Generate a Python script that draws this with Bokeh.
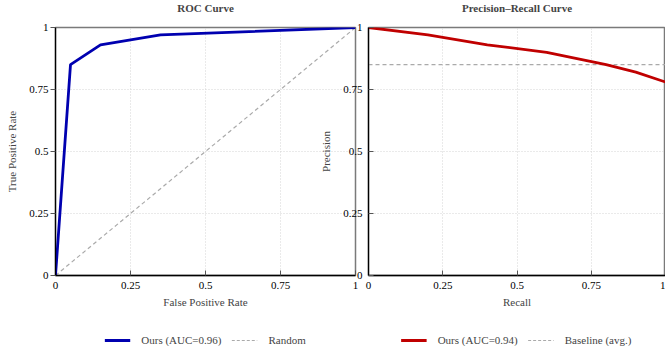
from bokeh.plotting import figure
from bokeh.models import Range1d, Legend, LegendItem, FixedTicker
from bokeh.layouts import row, column
from bokeh.embed import file_html
from bokeh.resources import INLINE

# ---- data ----
fpr = [0.0, 0.05, 0.15, 0.35, 1.0]
tpr = [0.0, 0.85, 0.93, 0.97, 1.0]
random_x = [0.0, 1.0]
random_y = [0.0, 1.0]
recall = [0.0, 0.2, 0.4, 0.6, 0.8, 0.9, 1.0]
precision = [1.0, 0.97, 0.93, 0.90, 0.85, 0.82, 0.78]
baseline_x = [0.0, 1.0]
baseline_y = [0.85, 0.85]
tick_values = [0, 0.25, 0.5, 0.75, 1]
tick_labels = ["0", "0.25", "0.5", "0.75", "1"]
roc_labels = ["Ours (AUC=0.96)", "Random"]
pr_labels = ["Ours (AUC=0.94)", "Baseline (avg.)"]

FONT = "Liberation Serif"
BLUE = "#0000b0"
RED = "#c00000"
GRAY = "#aaaaaa"
overrides = {v: s for v, s in zip(tick_values, tick_labels)}


def style(p, xlabel, ylabel, ytick_in):
    p.outline_line_color = "#7a7a7a"
    p.outline_line_width = 1.5
    p.background_fill_color = "white"
    p.title.text_font = FONT
    p.title.text_font_size = "11px"
    p.title.text_font_style = "bold"
    p.title.align = "center"
    p.title.standoff = 27
    for ax in p.xaxis:
        ax.ticker = FixedTicker(ticks=tick_values)
        ax.major_label_overrides = overrides
        ax.axis_label = xlabel
        ax.major_tick_in = 5
        ax.major_tick_out = 0
        ax.major_label_standoff = 6
        ax.axis_label_standoff = 4
    for ax in p.yaxis:
        ax.ticker = FixedTicker(ticks=tick_values)
        ax.major_label_overrides = overrides
        ax.axis_label = ylabel
        if ytick_in:
            ax.major_tick_in = 5
            ax.major_tick_out = 0
            ax.major_label_standoff = 6
        else:
            ax.major_tick_in = 0
            ax.major_tick_out = 5
            ax.major_label_standoff = 2
        ax.axis_label_standoff = 8
    for ax in p.axis:
        ax.major_label_text_font = FONT
        ax.major_label_text_font_size = "11px"
        ax.axis_label_text_font = FONT
        ax.axis_label_text_font_size = "11px"
        ax.axis_label_text_font_style = "normal"
        ax.minor_tick_line_color = None
        ax.axis_line_color = "black"
        ax.axis_line_width = 1.3
        ax.major_tick_line_color = "#555555"
        ax.major_label_text_color = "black"
    for g in (p.xgrid[0], p.ygrid[0]):
        g.ticker = FixedTicker(ticks=[0.25, 0.5, 0.75])
        g.grid_line_color = "#d4d4d4"
        g.grid_line_dash = "1 2"


def legend_fig(width, left, right, specs, labels, shift=None):
    kw = {}
    if shift is not None:
        kw["margin"] = (0, 0, 0, shift)
    # ranges kept away from the data so only the legend glyphs show
    lf = figure(width=width, height=36, x_range=Range1d(5, 6), y_range=Range1d(5, 6),
                x_axis_type=None, y_axis_type=None, min_border_left=left,
                min_border_right=right, min_border_top=18, min_border_bottom=6,
                output_backend="svg", toolbar_location=None, **kw)
    lf.outline_line_color = None
    lf.xgrid.visible = False
    lf.ygrid.visible = False
    lf.border_fill_color = None
    lf.background_fill_color = None
    items = []
    for (xs, ys, color, lw, dash), lab in zip(specs, labels):
        r = lf.line(xs, ys, line_color=color, line_width=lw, line_dash=dash)
        items.append(LegendItem(label=lab, renderers=[r]))
    leg = Legend(items=items, orientation="horizontal", location="center",
                 border_line_color=None, background_fill_alpha=0, padding=0, margin=0,
                 spacing=10, label_standoff=11, glyph_width=26, glyph_height=12,
                 label_height=12, label_text_font=FONT, label_text_font_size="11px")
    lf.add_layout(leg, "center")
    return lf


# ---- ROC ----
p1 = figure(width=365, height=330, x_range=Range1d(0, 1), y_range=Range1d(0, 1),
            min_border_left=55, min_border_right=10, min_border_top=41, min_border_bottom=41,
            title="ROC Curve", output_backend="svg", toolbar_location=None,
            margin=(-14, 0, 0, 0))
style(p1, "False Positive Rate", "True Positive Rate", False)
p1.line(random_x, random_y, line_color=GRAY, line_width=1.2, line_dash="4 3")
p1.line(fpr, tpr, line_color=BLUE, line_width=2.8)

# ---- PR ----
p2 = figure(width=348, height=330, x_range=Range1d(0, 1), y_range=Range1d(0, 1),
            min_border_left=50, min_border_right=0, min_border_top=41, min_border_bottom=41,
            title="Precision\u2013Recall Curve", output_backend="svg", toolbar_location=None,
            margin=(-14, 0, 0, -48))
style(p2, "Recall", "Precision", True)
p2.border_fill_color = None
p2.line(baseline_x, baseline_y, line_color=GRAY, line_width=1.2, line_dash="4 3")
p2.line(recall, precision, line_color=RED, line_width=2.8)

l1 = legend_fig(365, 55, 10, [(fpr, tpr, BLUE, 2.8, "solid"),
                              (random_x, random_y, GRAY, 1.2, "3 2")], roc_labels)
l2 = legend_fig(348, 50, 0, [(recall, precision, RED, 2.8, "solid"),
                             (baseline_x, baseline_y, GRAY, 1.2, "3 2")], pr_labels, shift=-48)

layout = column(row(p1, p2), row(l1, l2))
open("out.html", "w").write(file_html(layout, INLINE))
